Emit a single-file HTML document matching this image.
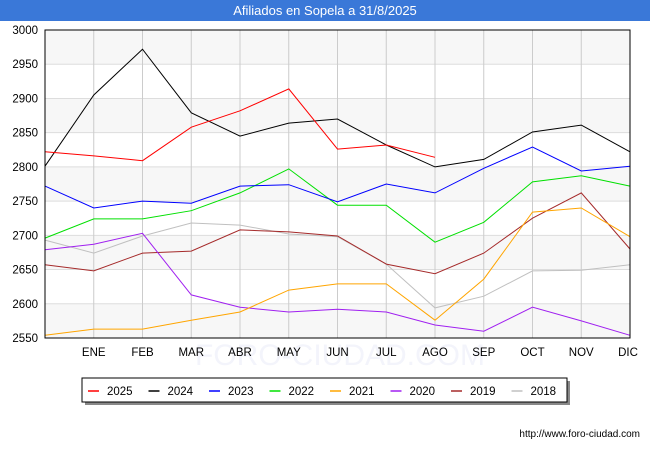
<!DOCTYPE html>
<html><head><meta charset="utf-8"><style>
body{margin:0;width:650px;height:450px;background:#fff;font-family:"Liberation Sans",sans-serif;overflow:hidden}
</style></head><body>
<svg width="650" height="450" xmlns="http://www.w3.org/2000/svg">
<rect x="0" y="0" width="650" height="21" fill="#3a78d8"/>
<text x="325" y="15" text-anchor="middle" font-size="13" fill="#fff">Afiliados en Sopela a 31/8/2025</text>
<g id="grid"></g>
<text x="340" y="365" text-anchor="middle" font-size="30" fill="#f3f4fb">FORO-CIUDAD.COM</text>
<g id="axes"></g>
<g id="series"></g>
<rect x="45" y="30" width="585" height="308" fill="none" stroke="#000" stroke-width="1"/>
<rect x="85" y="381" width="485" height="24" fill="#888"/>
<rect x="82" y="378" width="485" height="24" fill="#fff" stroke="#000"/>
<g id="legend"></g>
<text x="640" y="437" text-anchor="end" font-size="10" fill="#000">http://www.foro-ciudad.com</text>
</svg>
<script>
const months=["","ENE","FEB","MAR","ABR","MAY","JUN","JUL","AGO","SEP","OCT","NOV","DIC"];
const yTicks=[2550,2600,2650,2700,2750,2800,2850,2900,2950,3000];
const years=["2025","2024","2023","2022","2021","2020","2019","2018"];
const colors=["#ff0000","#000000","#0000ff","#00e000","#ffa500","#a020f0","#a52a2a","#c0c0c0"];
const s2025=[2822,2816,2809,2858,2882,2914,2826,2832,2814];
const s2024=[2801,2905,2972,2879,2845,2864,2870,2832,2800,2811,2851,2861,2822];
const s2023=[2772,2740,2750,2747,2772,2774,2749,2775,2762,2798,2829,2794,2801];
const s2022=[2696,2724,2724,2736,2762,2797,2744,2744,2690,2719,2778,2787,2772];
const s2021=[2554,2563,2563,2576,2588,2620,2629,2629,2576,2636,2734,2740,2698];
const s2020=[2679,2687,2703,2613,2595,2588,2592,2588,2569,2560,2595,2575,2554];
const s2019=[2657,2648,2674,2677,2708,2705,2699,2658,2644,2674,2725,2762,2680];
const s2018=[2693,2674,2699,2718,2715,2702,2698,2658,2594,2611,2648,2649,2657];
const seriesList=[s2025,s2024,s2023,s2022,s2021,s2020,s2019,s2018];
const NS="http://www.w3.org/2000/svg";
const x=i=>45+i*(585/12);
const y=v=>338-(v-2550)*(308/450);
function mk(t,a,p){const e=document.createElementNS(NS,t);for(const k in a)e.setAttribute(k,a[k]);p.appendChild(e);return e;}
const grid=document.getElementById('grid'),axes=document.getElementById('axes'),ser=document.getElementById('series'),leg=document.getElementById('legend');
for(let i=0;i<yTicks.length-1;i++){
  if(i%2==0){const r=mk('rect',{x:45,y:y(yTicks[i+1]),width:585,height:y(yTicks[i])-y(yTicks[i+1]),fill:'#f7f7f7'},grid);
  
  }
}
yTicks.forEach(v=>{
  const l=mk('line',{x1:45,x2:630,y1:y(v),y2:y(v),stroke:'#ddd'},grid);
  
  
  const t=mk('text',{x:38,y:y(v)+4,'text-anchor':'end','font-size':'11.5',fill:'#000'},axes);
  
  
  t.textContent=v;
});
months.forEach((m,i)=>{
  if(i>0){const l=mk('line',{x1:x(i),x2:x(i),y1:30,y2:338,stroke:'#ccc'},grid);
  
  }
  const t=mk('text',{x:x(i)-(i==12?2:0),y:356,'text-anchor':'middle','font-size':'11.5',fill:'#000'},axes);
  
  
  t.textContent=m;
});
for(let k=seriesList.length-1;k>=0;k--){
  const d=seriesList[k].map((v,i)=>x(i).toFixed(1)+','+y(v).toFixed(1)).join(' ');
  const p=mk('polyline',{points:d,fill:'none',stroke:colors[k],'stroke-width':1},ser);
  
  
}
years.forEach((yr,k)=>{
  const lx=88+k*60.5;
  const l=mk('line',{x1:lx,x2:lx+11,y1:391,y2:391,stroke:colors[k],'stroke-width':1.5},leg);
  
  
  const t=mk('text',{x:lx+19,y:395,'font-size':'11.5',fill:'#000'},leg);
  
  
  t.textContent=yr;
});
</script>
</body></html>
